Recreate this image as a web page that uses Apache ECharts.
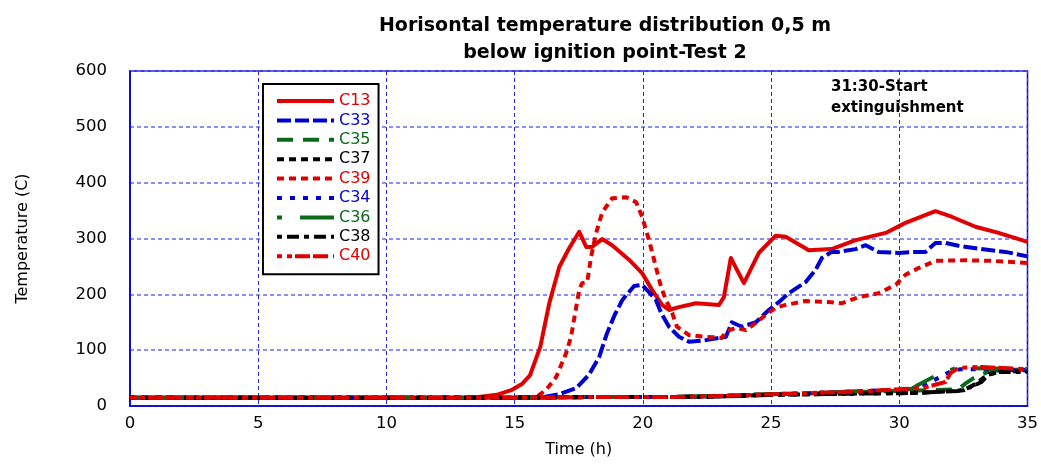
<!DOCTYPE html>
<html>
<head>
<meta charset="utf-8">
<script src="https://cdn.jsdelivr.net/npm/echarts@6/dist/echarts.min.js"></script>
<style>html,body{margin:0;padding:0;background:#fff}#c{width:1041px;height:464px}</style>
</head>
<body>
<div id="c"></div>
<script>
// ---- data: [time (h), temperature (C)] ----
const xTicks = [0, 5, 10, 15, 20, 25, 30, 35];
const yTicks = [0, 100, 200, 300, 400, 500, 600];
const seriesNames = ['C13', 'C33', 'C35', 'C37', 'C39', 'C34', 'C36', 'C38', 'C40'];

const c13 = [[0,15],[5,15],[10,15],[13,15],[13.6,16],[14.3,20],[14.9,29],[15.3,40],[15.6,55],[16.0,106],[16.35,184],[16.74,249],[17.13,283],[17.52,312],[17.79,285],[18.02,285],[18.41,299],[18.8,288],[19.46,262],[19.97,238],[20.36,208],[20.75,181],[21.02,172],[21.41,177],[22.07,184],[22.97,181],[23.16,195],[23.43,265],[23.94,220],[24.52,274],[25.18,305],[25.57,303],[26.47,279],[27.36,281],[28.3,297],[29.47,310],[30.24,328],[31.41,349],[32.04,339],[32.97,321],[33.87,310],[35,294]];
const c33 = [[0,15],[10,15],[16,15],[16.74,21],[17.4,32],[17.9,56],[18.3,88],[18.6,130],[18.9,163],[19.2,190],[19.66,215],[19.97,217],[20.24,204],[20.51,190],[20.71,167],[21.02,142],[21.41,124],[21.8,115],[22.46,118],[23.24,124],[23.47,150],[23.86,142],[24.41,150],[24.91,172],[25.3,186],[25.69,202],[26.35,222],[26.74,244],[26.98,265],[27.36,276],[27.64,276],[28.3,281],[28.69,288],[29.19,276],[29.97,274],[30.63,276],[31.02,276],[31.41,292],[31.8,292],[32.31,287],[33.2,281],[34.14,276],[35,268]];
const c35 = [[0,15],[5,15],[10,15],[15,15],[18,16],[21,16],[23,18],[25,21],[27,23],[29,26],[31,28],[32.3,30],[32.6,41],[32.9,50],[33.5,62],[34.2,65],[35,65]];
const c37 = [[0,15],[5,15],[10,15],[15,15],[18,16],[21,16],[23,17],[25,20],[28,22],[30,23],[31,24],[32.5,28],[33,40],[33.4,55],[34,62],[35,63]];
const c39 = [[0,15],[10,15],[15.5,15],[15.9,18],[16.23,29],[16.62,52],[17.01,95],[17.2,124],[17.4,177],[17.52,208],[17.63,220],[17.83,222],[17.98,267],[18.18,310],[18.41,346],[18.8,372],[19.35,374],[19.74,365],[19.97,339],[20.24,297],[20.51,249],[20.71,213],[20.9,190],[21.14,167],[21.33,142],[21.8,127],[22.46,124],[23.08,122],[23.24,133],[23.63,140],[24.02,136],[24.41,149],[24.79,163],[25.18,176],[25.57,181],[26.35,188],[27.36,186],[27.75,184],[28.42,195],[29.19,202],[29.86,217],[30.24,235],[30.75,247],[31.41,260],[32.58,261],[33.59,260],[35,256]];
const c34 = [[0,15],[5,15],[10,15],[15,15],[18,16],[21,16],[23,18],[25,21],[27,24],[28.7,27],[30,29],[30.5,31],[31.0,38],[31.6,52],[32.0,62],[32.4,66],[33.5,66],[35,64]];
const c36 = [[0,15],[5,15],[10,15],[15,15],[18,16],[21,16],[23,18],[25,21],[27,24],[28.7,27],[30,29],[30.5,31],[30.75,38],[31.5,56],[32.2,68],[33.5,67],[35,66]];
const c38 = [[0,15],[5,15],[10,15],[15,15],[18,16],[21,16],[23,17],[25,20],[28,22],[30,23],[31,24],[32.3,27],[32.8,34],[33.2,43],[33.5,57],[33.9,61],[35,61]];
const c40 = [[0,15],[5,15],[10,15],[15,15],[18,16],[21,16],[23,18],[25,21],[27,24],[28,25],[30,30],[30.9,32],[31.4,38],[31.8,43],[32.0,59],[32.3,68],[33.2,70],[34,68],[35,66]];

const RED = '#e00000', BLUE = '#0000d0', GREEN = '#0a6a1a', BLACK = '#000000';
const FONT = 'DejaVu Sans';

const defs = [
  {name: 'C13', data: c13, color: RED,   type: 'solid', width: 4},
  {name: 'C33', data: c33, color: BLUE,  type: [14, 4], width: 4},
  {name: 'C35', data: c35, color: GREEN, type: [16, 10], width: 4},
  {name: 'C37', data: c37, color: BLACK, type: [7, 5], width: 4},
  {name: 'C39', data: c39, color: RED,   type: [7, 5], width: 4},
  {name: 'C34', data: c34, color: BLUE,  type: [5, 8], width: 4},
  {name: 'C36', data: c36, color: GREEN, type: [5, 18, 34, 18], width: 4},
  {name: 'C38', data: c38, color: BLACK, type: [5, 5, 12, 5], width: 4},
  {name: 'C40', data: c40, color: RED,   type: [5, 5, 5, 3, 15, 3, 15, 5], width: 4}
];

const chart = echarts.init(document.getElementById('c'), null, {renderer: 'canvas'});
chart.setOption({
  animation: false,
  backgroundColor: '#ffffff',
  title: {
    text: 'Horisontal temperature distribution 0,5 m\nbelow ignition point-Test 2',
    left: 600, top: 8, textAlign: 'center',
    textStyle: {fontFamily: FONT, fontWeight: 'bold', fontSize: 19, lineHeight: 27, color: '#000'}
  },
  grid: {left: 130, right: 12, top: 71, bottom: 58, show: true, borderColor: BLUE, borderWidth: 1.5, backgroundColor: 'transparent'},
  legend: {
    orient: 'vertical', left: 263, top: 84,
    padding: [9, 8, 10, 12],
    borderColor: '#000', borderWidth: 2, backgroundColor: '#fff',
    itemWidth: 57, itemHeight: 14, itemGap: 3.4,
    itemStyle: {opacity: 0},
    lineStyle: {width: 4},
    data: defs.map(d => ({name: d.name, textStyle: {color: d.color}})),
    textStyle: {fontFamily: FONT, fontSize: 16}
  },
  xAxis: {
    type: 'value', min: 0, max: 35, interval: 5,
    name: 'Time (h)', nameLocation: 'middle', nameGap: 36,
    nameTextStyle: {fontFamily: FONT, fontSize: 16, color: '#000'},
    axisLine: {lineStyle: {color: BLUE, width: 1.5}},
    axisTick: {show: false},
    axisLabel: {fontFamily: FONT, fontSize: 16.5, color: '#000', margin: 9},
    splitLine: {show: true, lineStyle: {color: '#2a2ae0', width: 1, type: [4, 3]}}
  },
  yAxis: {
    type: 'value', min: 0, max: 600, interval: 100,
    name: 'Temperature (C)', nameLocation: 'middle', nameGap: 99, nameRotate: 90,
    nameTextStyle: {fontFamily: FONT, fontSize: 16, color: '#000'},
    axisLine: {show: true, lineStyle: {color: BLUE, width: 1.5}},
    axisTick: {show: false},
    axisLabel: {fontFamily: FONT, fontSize: 16.5, color: '#000', margin: 23},
    splitLine: {show: true, lineStyle: {color: '#6a6aee', width: 1.5, type: [4, 3]}}
  },
  graphic: [{
    type: 'text', left: 831, top: 77,
    style: {text: '31:30-Start\nextinguishment', fontFamily: FONT, fontWeight: 'bold', fontSize: 15, lineHeight: 21, fill: '#000'}
  }],
  series: defs.map(d => ({
    name: d.name, type: 'line', data: d.data, showSymbol: false, symbol: 'none',
    color: d.color,
    lineStyle: {color: d.color, width: d.width, type: d.type, cap: 'butt', join: 'round'},
    emphasis: {disabled: true}
  }))
});
</script>
</body>
</html>
